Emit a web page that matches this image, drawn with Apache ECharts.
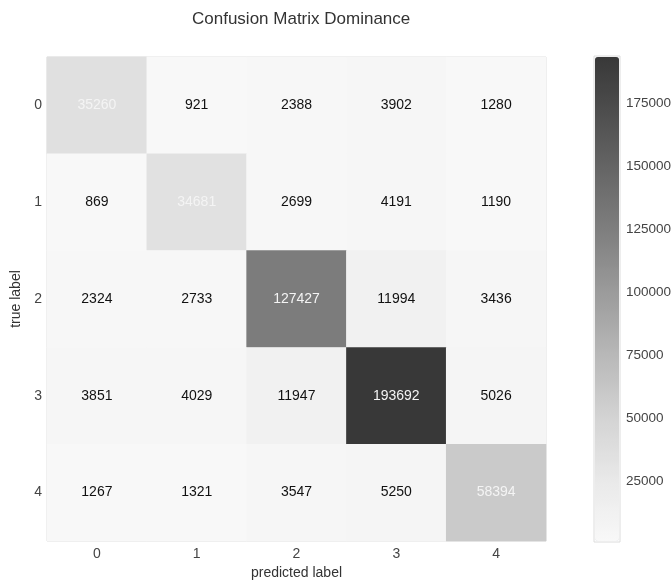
<!DOCTYPE html>
<html>
<head>
<meta charset="utf-8">
<script src="https://cdn.jsdelivr.net/npm/echarts@6/dist/echarts.min.js"></script>
<style>html,body{margin:0;padding:0;background:#fff;}#c{width:672px;height:581px;}</style>
</head>
<body>
<div id="c"></div>
<script>
const predictedLabels = ['0', '1', '2', '3', '4'];
const trueLabels = ['0', '1', '2', '3', '4'];
const row0 = [35260, 921, 2388, 3902, 1280];
const row1 = [869, 34681, 2699, 4191, 1190];
const row2 = [2324, 2733, 127427, 11994, 3436];
const row3 = [3851, 4029, 11947, 193692, 5026];
const row4 = [1267, 1321, 3547, 5250, 58394];
const colorbarTicks = [25000, 50000, 75000, 100000, 125000, 150000, 175000];

const matrix = [row0, row1, row2, row3, row4];
let vmin = Infinity, vmax = -Infinity;
matrix.forEach(r => r.forEach(v => { vmin = Math.min(vmin, v); vmax = Math.max(vmax, v); }));

const data = [];
matrix.forEach((r, i) => r.forEach((v, j) => {
  data.push({
    value: [j, i, v],
    label: { color: i === j ? '#f4f4f4' : '#111' }
  });
}));

const font = '"Liberation Sans", Arial, sans-serif';
const chart = echarts.init(document.getElementById('c'));
chart.setOption({
  backgroundColor: '#fff',
  animation: false,
  textStyle: { fontFamily: font },
  title: {
    text: 'Confusion Matrix Dominance',
    left: 187, top: 6,
    textStyle: { fontSize: 17, fontWeight: 'normal', color: '#333', fontFamily: font }
  },
  grid: [
    { left: 47, top: 57, width: 499, height: 484, show: true, borderColor: '#dcdcdc', borderWidth: 1, backgroundColor: 'transparent', containLabel: false, outerBoundsMode: 'none' },
    { left: 594, top: 56, width: 26, height: 486, show: true, borderColor: '#dcdcdc', borderWidth: 1, backgroundColor: 'transparent', containLabel: false, outerBoundsMode: 'none' }
  ],
  xAxis: [
    {
      type: 'category', data: predictedLabels, gridIndex: 0, position: 'bottom',
      name: 'predicted label', nameLocation: 'middle', nameGap: 25,
      nameTextStyle: { fontSize: 14, color: '#333', fontFamily: font },
      axisLine: { show: false }, axisTick: { show: false }, splitLine: { show: false },
      axisLabel: { fontSize: 14, color: '#444', margin: 6, fontFamily: font }
    },
    { type: 'value', gridIndex: 1, show: false }
  ],
  yAxis: [
    {
      type: 'category', data: trueLabels, gridIndex: 0, inverse: true,
      name: 'true label', nameLocation: 'middle', nameGap: 21, nameRotate: 90,
      nameTextStyle: { fontSize: 14, color: '#333', fontFamily: font },
      axisLine: { show: false }, axisTick: { show: false }, splitLine: { show: false },
      axisLabel: { fontSize: 14, color: '#444', margin: 5, fontFamily: font }
    },
    {
      type: 'value', gridIndex: 1, position: 'right', min: vmin, max: vmax,
      axisLine: { show: false }, splitLine: { show: false },
      axisTick: { show: false, customValues: colorbarTicks },
      axisLabel: { fontSize: 13.5, color: '#444', margin: 6, fontFamily: font, customValues: colorbarTicks, formatter: v => String(v) }
    }
  ],
  visualMap: {
    type: 'continuous', min: vmin, max: vmax, seriesIndex: 0,
    orient: 'vertical', left: 595, top: 57, itemWidth: 24, itemHeight: 484,
    padding: 0, calculable: false, text: null, showLabel: false,
    hoverLink: false,
    inRange: { color: ['#f8f8f8', '#e9e9e9', '#d4d4d4', '#bababa', '#9e9e9e', '#828282', '#696969', '#505050', '#383838'] }
  },
  series: [{
    type: 'heatmap', xAxisIndex: 0, yAxisIndex: 0, data: data,
    itemStyle: { borderWidth: 0 },
    label: { show: true, fontSize: 14, fontFamily: font, formatter: p => String(p.value[2]) },
    emphasis: { disabled: true }
  }]
});
</script>
</body>
</html>
